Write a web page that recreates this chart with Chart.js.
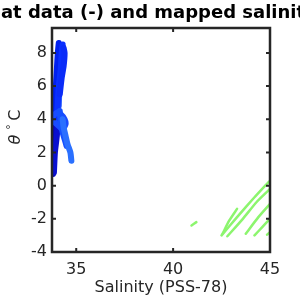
<!DOCTYPE html>
<html>
<head>
<meta charset="utf-8">
<script src="https://cdn.jsdelivr.net/npm/chart.js@4"></script>
<style>
  html, body { margin: 0; padding: 0; background: #fff; }
  #wrap { width: 300px; height: 300px; }
</style>
</head>
<body>
<div id="wrap"><canvas id="tsChart" width="300" height="300"></canvas></div>
<script>
// axis ticks
const xTicks = [35, 40, 45];
const yTicks = [-4, -2, 0, 2, 4, 6, 8];

// float profiles (salinity, theta)
const floatSal1 = [33.8, 33.82, 33.85, 33.9, 33.95];
const floatTheta1 = [0.7, 1.5, 2.5, 3.5, 4.5];
const floatSal2 = [33.85, 33.9, 34.0, 34.05, 34.0];
const floatTheta2 = [0.8, 2.0, 3.0, 4.0, 5.0];
const floatSal3 = [33.85, 33.9, 33.95, 34.0, 34.05, 34.1];
const floatTheta3 = [4.0, 5.0, 6.0, 7.0, 8.0, 8.6];
const floatSal4 = [34.0, 34.05, 34.1, 34.2, 34.25, 34.3];
const floatTheta4 = [4.0, 5.0, 6.0, 7.0, 8.0, 8.5];
const floatSal5 = [34.15, 34.25, 34.35, 34.4, 34.35];
const floatTheta5 = [5.5, 6.5, 7.2, 8.0, 8.3];
const floatSal6 = [33.8, 34.0, 34.2, 34.4, 34.45, 34.3, 34.1, 33.9];
const floatTheta6 = [4.2, 4.4, 4.3, 4.0, 3.7, 3.4, 3.6, 3.8];
const floatSal7 = [34.75, 34.7, 34.55, 34.45, 34.35, 34.3];
const floatTheta7 = [1.5, 2.0, 2.5, 3.0, 3.5, 4.0];
const floatSal8 = [34.5, 34.4, 34.3, 34.2, 34.15];
const floatTheta8 = [2.4, 2.8, 3.2, 3.8, 4.5];
const floatSal9 = [34.1, 34.12, 34.15];
const floatTheta9 = [4.8, 5.5, 6.2];

// mapped salinity profiles
const mapSal1 = [42.5, 43.3, 44.2, 44.95];
const mapTheta1 = [-3.0, -1.9, -0.7, 0.25];
const mapSal2 = [42.55, 42.9, 43.3];
const mapTheta2 = [-2.9, -2.1, -1.4];
const mapSal3 = [42.8, 43.6, 44.3, 45.0];
const mapTheta3 = [-3.05, -2.0, -1.0, -0.2];
const mapSal4 = [43.75, 44.4, 45.0];
const mapTheta4 = [-2.9, -1.9, -1.1];
const mapSal5 = [44.2, 44.6, 45.0];
const mapTheta5 = [-3.0, -2.5, -2.0];
const mapSal6 = [44.85, 45.0];
const mapTheta6 = [-2.95, -2.8];
const mapSal7 = [40.95, 41.2];
const mapTheta7 = [-2.4, -2.2];

const floatProfiles = [
    [floatSal7, floatTheta7, '#2a70ff'],
    [floatSal8, floatTheta8, '#1450ff'],
    [floatSal6, floatTheta6, '#1a4cff'],
    [floatSal5, floatTheta5, '#0a2cf8'],
    [floatSal4, floatTheta4, '#0a30ff'],
    [floatSal3, floatTheta3, '#0020f0'],
    [floatSal9, floatTheta9, '#2a5cff'],
    [floatSal2, floatTheta2, '#0a10d0'],
    [floatSal1, floatTheta1, '#0808b8']
];
const mapProfiles = [
    [mapSal1, mapTheta1], [mapSal2, mapTheta2], [mapSal3, mapTheta3],
    [mapSal4, mapTheta4], [mapSal5, mapTheta5], [mapSal6, mapTheta6],
    [mapSal7, mapTheta7]
];

function toPoints(sal, theta) {
    return sal.map((s, i) => ({ x: s, y: theta[i] }));
}

const datasets = [];
floatProfiles.forEach(p => {
    datasets.push({
        data: toPoints(p[0], p[1]),
        showLine: true,
        borderColor: p[2],
        borderWidth: 6,
        borderCapStyle: 'round',
        borderJoinStyle: 'round',
        pointRadius: 0,
        tension: 0.2
    });
});
mapProfiles.forEach(p => {
    datasets.push({
        data: toPoints(p[0], p[1]),
        showLine: true,
        borderColor: '#8cf56e',
        borderWidth: 2.5,
        borderCapStyle: 'round',
        pointRadius: 0,
        tension: 0.2
    });
});

const ink = '#262626';
const font = 'DejaVu Sans';

// frame, inward ticks and text
const framePlugin = {
    id: 'frame',
    afterDraw(chart) {
        const ctx = chart.ctx;
        const a = chart.chartArea;
        const xs = chart.scales.x, ys = chart.scales.y;
        ctx.save();
        ctx.strokeStyle = ink;
        ctx.lineWidth = 2.5;
        ctx.strokeRect(a.left, a.top, a.right - a.left, a.bottom - a.top);
        ctx.lineWidth = 2;
        xTicks.forEach(v => {
            const px = xs.getPixelForValue(v);
            ctx.beginPath();
            ctx.moveTo(px, a.bottom); ctx.lineTo(px, a.bottom - 4);
            ctx.moveTo(px, a.top); ctx.lineTo(px, a.top + 4);
            ctx.stroke();
        });
        yTicks.forEach(v => {
            const py = ys.getPixelForValue(v);
            ctx.beginPath();
            ctx.moveTo(a.left, py); ctx.lineTo(a.left + 4, py);
            ctx.moveTo(a.right, py); ctx.lineTo(a.right - 4, py);
            ctx.stroke();
        });

        const cx = (a.left + a.right) / 2;
        ctx.fillStyle = '#000';
        ctx.font = 'bold 18px "' + font + '"';
        ctx.textAlign = 'center';
        ctx.textBaseline = 'middle';
        ctx.fillText('Float data (-) and mapped salinity (o)', cx, 13);

        ctx.fillStyle = ink;
        ctx.font = '16px "' + font + '"';
        ctx.fillText('Salinity (PSS-78)', cx, 288);

        // y label: theta ° C
        ctx.translate(16, 127);
        ctx.rotate(-Math.PI / 2);
        ctx.textAlign = 'left';
        ctx.font = 'italic 16px "' + font + '"';
        const w1 = ctx.measureText('θ ').width;
        ctx.font = '11px "' + font + '"';
        const w2 = ctx.measureText('° ').width;
        ctx.font = '16px "' + font + '"';
        const w3 = ctx.measureText('C').width;
        let x0 = -(w1 + w2 + w3) / 2;
        ctx.font = 'italic 16px "' + font + '"';
        ctx.fillText('θ ', x0, 0);
        ctx.font = '11px "' + font + '"';
        ctx.fillText('° ', x0 + w1, -5);
        ctx.font = '16px "' + font + '"';
        ctx.fillText('C', x0 + w1 + w2, 0);
        ctx.restore();
    }
};

new Chart(document.getElementById('tsChart'), {
    type: 'scatter',
    data: { datasets: datasets },
    options: {
        responsive: false,
        animation: false,
        events: [],
        layout: { padding: { top: 28, right: 30, left: 0, bottom: 0 } },
        plugins: { legend: { display: false }, tooltip: { enabled: false } },
        scales: {
            x: {
                type: 'linear',
                min: 33.75,
                max: 45,
                afterBuildTicks: s => { s.ticks = xTicks.map(v => ({ value: v })); },
                afterFit: s => { s.height = 48; },
                grid: { display: false, drawTicks: false },
                border: { display: false },
                ticks: { color: ink, font: { family: font, size: 16 }, padding: 8, maxRotation: 0 }
            },
            y: {
                type: 'linear',
                min: -4,
                max: 9.5,
                afterBuildTicks: s => { s.ticks = yTicks.map(v => ({ value: v })); },
                afterFit: s => { s.width = 52; },
                grid: { display: false, drawTicks: false },
                border: { display: false },
                ticks: { color: ink, font: { family: font, size: 16 }, padding: 5 }
            }
        }
    },
    plugins: [framePlugin]
});
</script>
</body>
</html>
